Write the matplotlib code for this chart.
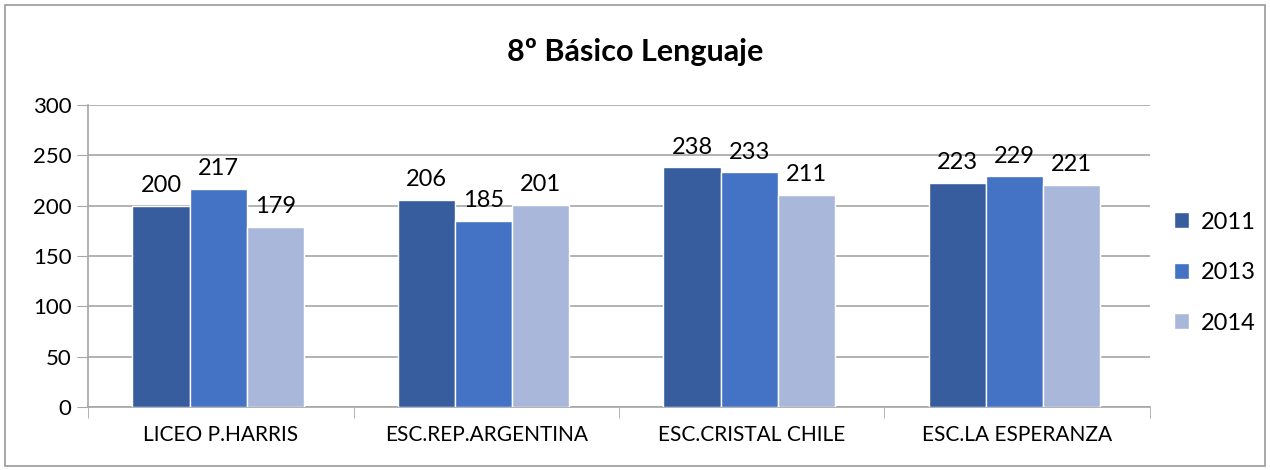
import numpy as np
import matplotlib.pyplot as plt
from matplotlib.patches import Rectangle

plt.rcParams['font.family'] = ['Lato', 'DejaVu Sans']

schools = ['LICEO P.HARRIS', 'ESC.REP.ARGENTINA', 'ESC.CRISTAL CHILE', 'ESC.LA ESPERANZA']
years = ['2011', '2013', '2014']
v2011 = [200, 206, 238, 223]
v2013 = [217, 185, 233, 229]
v2014 = [179, 201, 211, 221]
colors = ['#385D9F', '#4472C4', '#A9B7DA']

fig = plt.figure(figsize=(12.7, 4.7), dpi=100)
ax = fig.add_axes([0.0693, 0.134, 0.8362, 0.6426])

# outer chart border
fig.patches.append(Rectangle((0.004, 0.008), 0.992, 0.982, transform=fig.transFigure,
                             fill=False, edgecolor='#9a9a9a', linewidth=1.2))

x = np.arange(len(schools))
w = 0.215
for i, (vals, yr) in enumerate(zip([v2011, v2013, v2014], years)):
    bars = ax.bar(x + (i - 1) * w - 0.01, vals, w, color=colors[i], edgecolor='white',
                  linewidth=1, label=yr, zorder=3)
    ax.bar_label(bars, padding=7, fontsize=17)

ax.set_xlim(-0.5, 3.5)
ax.set_ylim(0, 300)
ax.set_yticks(range(0, 301, 50))
ax.yaxis.grid(True, color='#a6a6a6', linewidth=1.2, zorder=0)
ax.set_axisbelow(True)
ax.tick_params(axis='y', length=8, color='#a6a6a6', labelsize=16, pad=4)

ax.set_xticks(x)
ax.set_xticklabels(schools, fontsize=15)
ax.set_xticks(np.arange(-0.5, 4.0, 1.0), minor=True)
ax.tick_params(axis='x', which='major', length=0, pad=13)
ax.tick_params(axis='x', which='minor', length=8, color='#a6a6a6')

for s in ['top', 'right']:
    ax.spines[s].set_visible(False)
for s in ['left', 'bottom']:
    ax.spines[s].set_color('#a6a6a6')
    ax.spines[s].set_linewidth(1.2)

fig.text(0.5, 0.89, '8º Básico Lenguaje', ha='center', va='center',
         fontsize=22, fontweight='bold')

ax.legend(loc='center left', bbox_to_anchor=(1.0, 0.445), frameon=False,
          fontsize=17, handlelength=0.65, handleheight=0.65, labelspacing=1.25,
          handletextpad=0.5, borderaxespad=0.6)

fig.savefig('out.png', dpi=100)
